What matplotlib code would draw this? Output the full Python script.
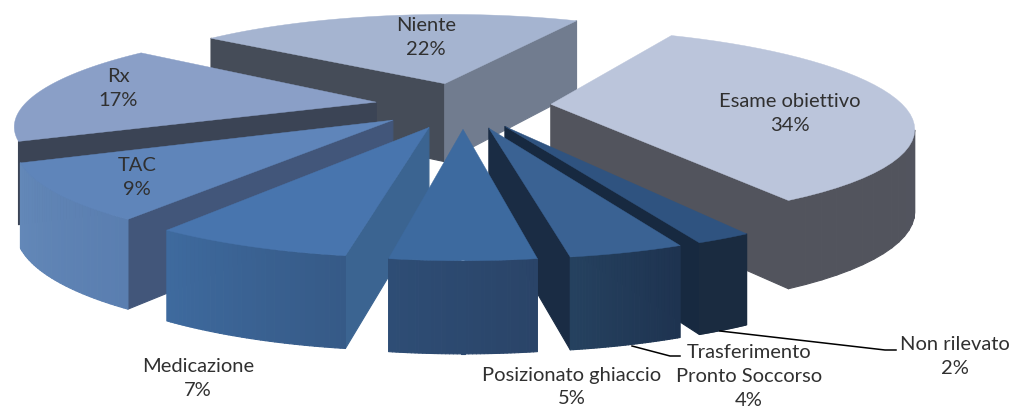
import numpy as np
import matplotlib
matplotlib.use('Agg')
import matplotlib.pyplot as plt

plt.rcParams['font.family'] = ['Lato', 'DejaVu Sans']

# slices in clockwise order, starting from Esame obiettivo
categories = ['Esame obiettivo', 'Non rilevato', 'Trasferimento\nPronto Soccorso', 'Posizionato ghiaccio',
              'Medicazione', 'TAC', 'Rx', 'Niente']
values = [34, 2, 4, 5, 7, 9, 17, 22]

top_colors = ['#BBC5DB', '#2F5380', '#3A6293', '#3D6A9F', '#4875AE', '#5F85BA', '#8A9FC7', '#A5B4D0']
start_wall_colors = ['#52545D', '#172940', '#1A2C44', '#2E4D75', '#3B6491', '#42567A', '#3B4455', '#454C58']
end_wall_colors = ['#52545D', '#172940', '#1A2C44', '#2E4D75', '#3B6491', '#42567A', '#3B4455', '#717C8F']
outer_left = ['#52545D', '#1A2B40', '#25415F', '#2E4D75', '#3E6A9E', '#6388B8', '#8A9FC7', '#A5B4D0']
outer_right = ['#52555F', '#1A2B40', '#1E3350', '#2A4468', '#365A87', '#5A7EB0', '#8A9FC7', '#A5B4D0']

# fake camera, fitted to the picture by hand
cx, cy = 463, 105
focal = 352
squash = 0.261
persp = 0.21
explode = 0.25
thick = 80
start_angle = 27


def project(x, y, drop=False):
    w = 1 + persp * y
    sx = cx + focal * x / w
    sy = cy - focal * squash * y / w
    if drop:
        # the reference grows less in height than in width towards the viewer
        sy = sy + thick / np.sqrt(w)
    return sx, sy


def draw_wall(ax, p, q, p_low, q_low, col):
    # only faces turned to the camera get drawn
    xs = [p[0], q[0], q_low[0], p_low[0]]
    ys = [p[1], q[1], q_low[1], p_low[1]]
    area = sum(xs[j] * ys[(j + 1) % 4] - xs[(j + 1) % 4] * ys[j] for j in range(4))
    if area < 0:
        ax.fill(xs, ys, color=col, lw=0.8, joinstyle='round')


def draw_slice(ax, a0, a1, i):
    mid = np.radians((a0 + a1) / 2)
    ox, oy = explode * np.sin(mid), explode * np.cos(mid)
    ang = np.radians(np.linspace(a0, a1, 40))
    x = ox + np.sin(ang)
    y = oy + np.cos(ang)
    tx, ty = project(x, y)
    bx, by = project(x, y, True)
    ax0, ay0 = project(ox, oy)
    bx0, by0 = project(ox, oy, True)

    draw_wall(ax, (ax0, ay0), (tx[0], ty[0]), (bx0, by0), (bx[0], by[0]), start_wall_colors[i])
    draw_wall(ax, (tx[-1], ty[-1]), (ax0, ay0), (bx[-1], by[-1]), (bx0, by0), end_wall_colors[i])

    # outer wall in strips to get the gradient, Rx has its wall hidden behind TAC
    if categories[i] != 'Rx':
        c_a = np.array(matplotlib.colors.to_rgb(outer_right[i]))
        c_b = np.array(matplotlib.colors.to_rgb(outer_left[i]))
        for k in range(len(ang) - 1):
            t = k / (len(ang) - 2)
            col = c_a + (c_b - c_a) * t
            draw_wall(ax, (tx[k], ty[k]), (tx[k + 1], ty[k + 1]), (bx[k], by[k]), (bx[k + 1], by[k + 1]), col)

    ax.fill(np.r_[ax0, tx], np.r_[ay0, ty], color=top_colors[i], lw=0.3)


fig = plt.figure(figsize=(10.21, 4.12), dpi=100)
ax = fig.add_axes([0, 0, 1, 1])
ax.set_xlim(0, 1021)
ax.set_ylim(412, 0)
ax.axis('off')

sweep = np.array(values) / sum(values) * 360
edges = start_angle + np.r_[0, np.cumsum(sweep)]

# far slices first
for i in [7, 6, 0, 5, 4, 1, 2, 3]:
    draw_slice(ax, edges[i], edges[i + 1], i)

# leader lines
ax.plot([720, 885, 896], [331, 350, 350], color='black', lw=1.1)
ax.plot([632, 670, 680], [346, 356, 356], color='black', lw=1.1)

label_pos = [(790, 113), (955, 357), (749, 376), (572, 387), (198, 379), (137, 177), (118, 88), (426, 37)]
for name, val, (lx, ly) in zip(categories, values, label_pos):
    ax.text(lx, ly, f'{name}\n{val}%', ha='center', va='center', fontsize=14.5,
            color='#303030', linespacing=1.5)

fig.savefig('out.png', dpi=100)
